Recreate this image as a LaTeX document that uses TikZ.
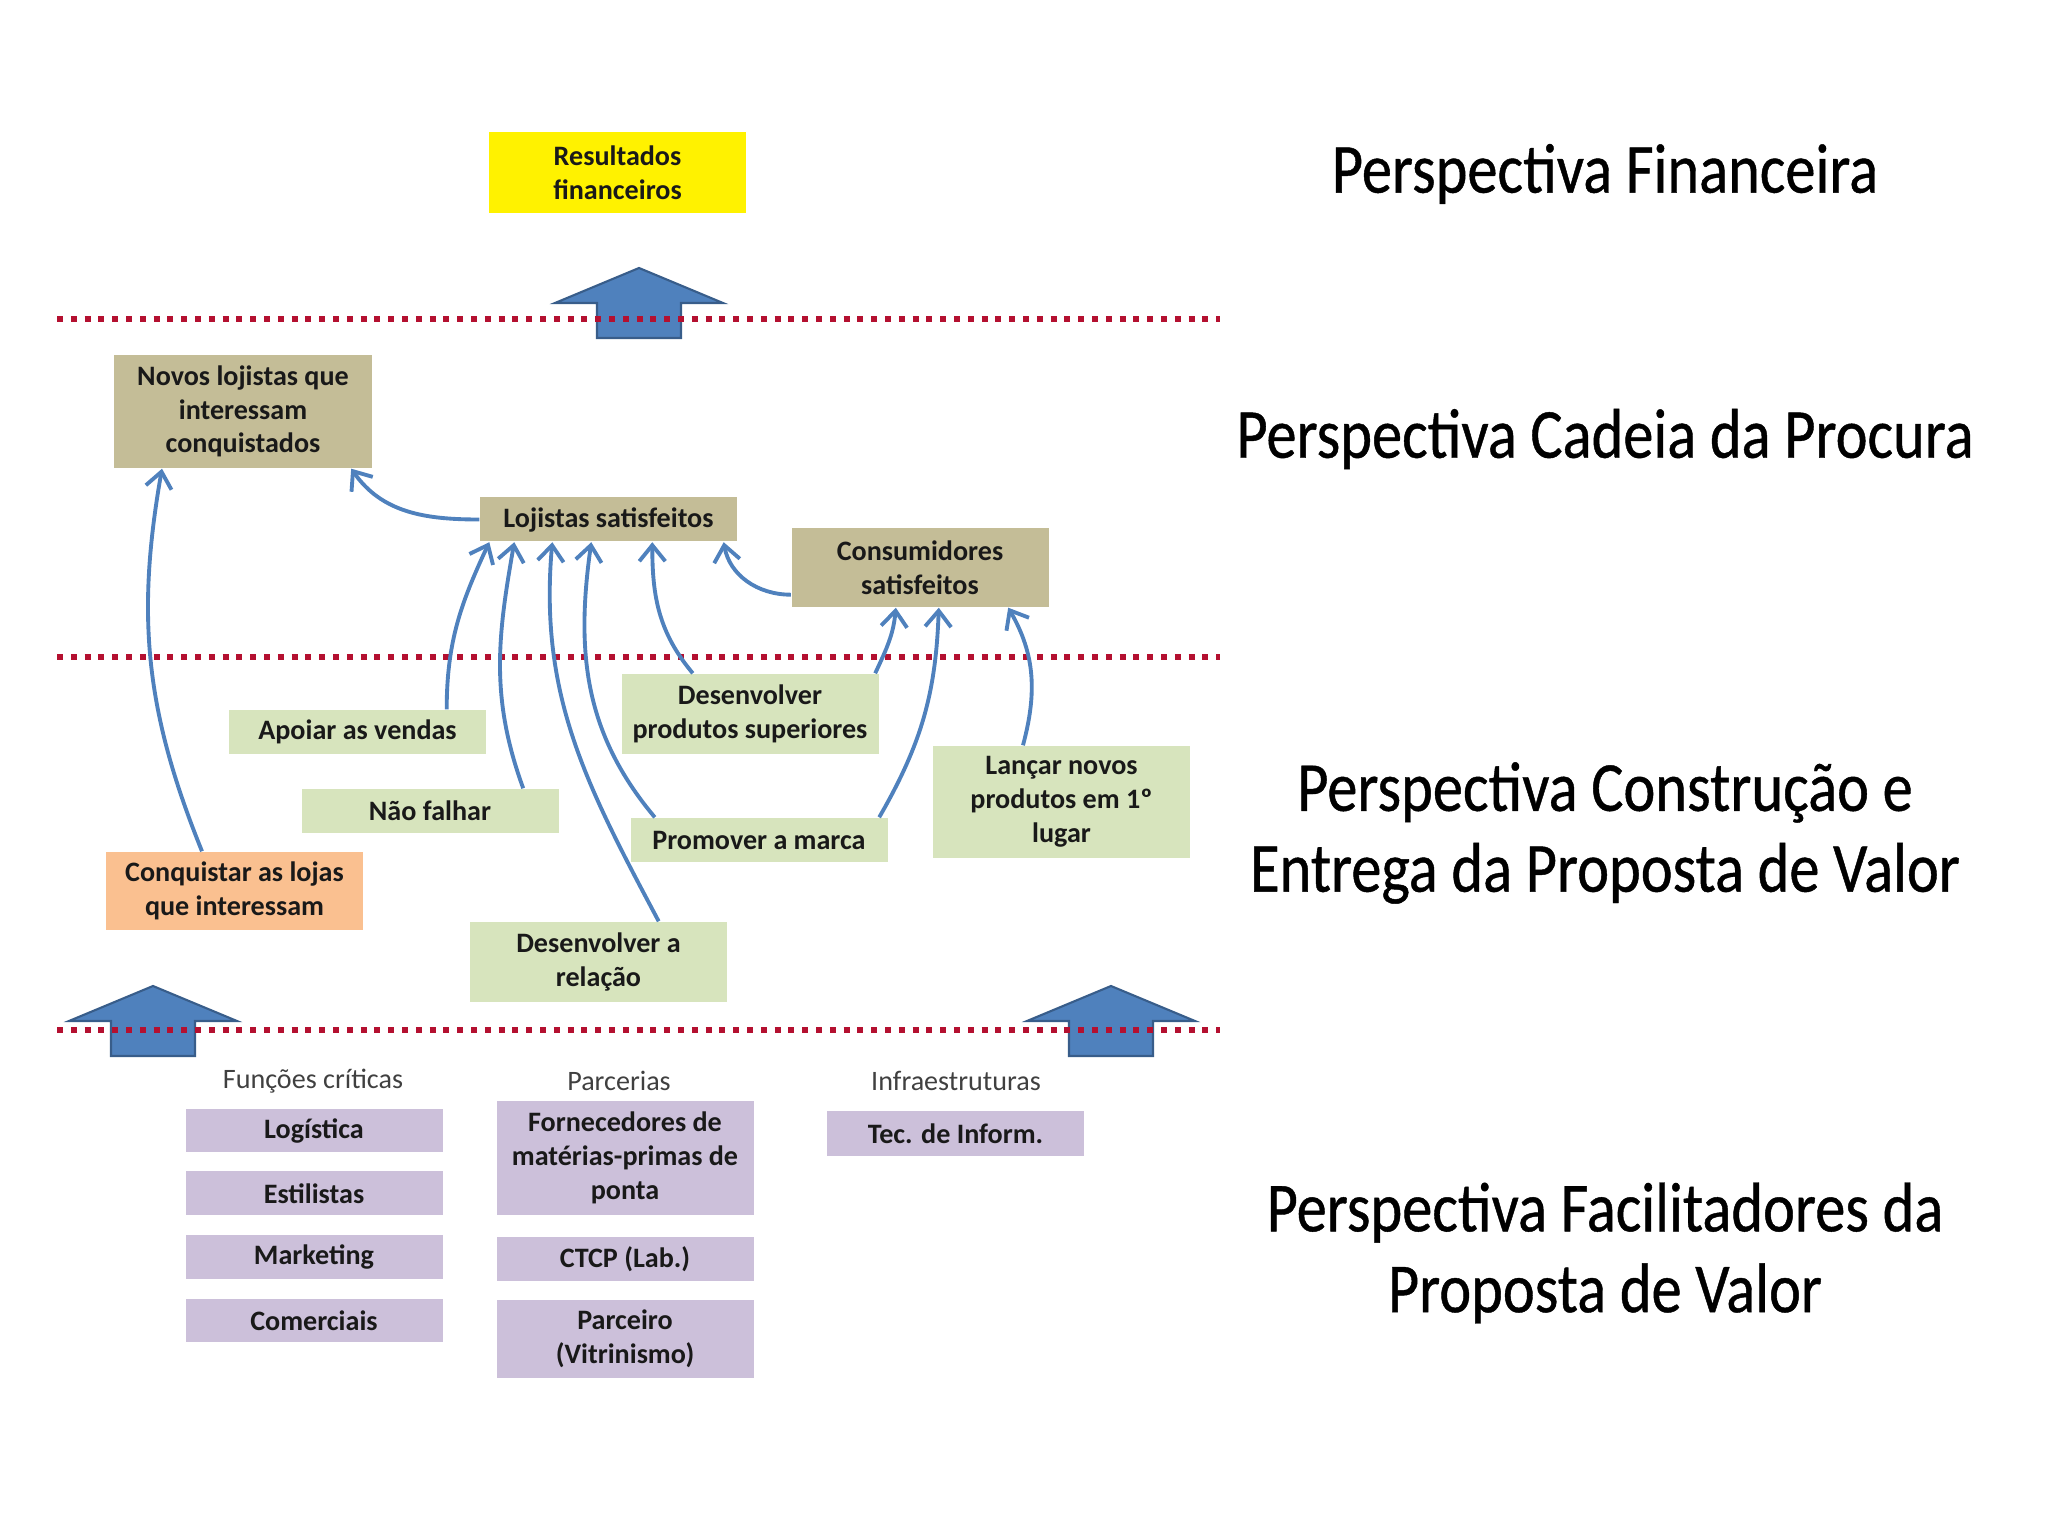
\documentclass[tikz,border=0pt]{standalone}
\usepackage{fontspec}
\setmainfont{Carlito}
\newfontfamily\titlefont[FakeStretch=0.86,FakeBold=0.6]{Carlito}
\usetikzlibrary{arrows.meta,positioning}

\definecolor{khaki}{RGB}{196,189,151}
\definecolor{leaf}{RGB}{215,228,189}
\definecolor{peach}{RGB}{250,192,144}
\definecolor{lilac}{RGB}{204,192,218}
\definecolor{dotred}{RGB}{180,16,48}
\definecolor{arrowblue}{RGB}{79,129,189}
\definecolor{arrowedge}{RGB}{56,93,138}

\begin{document}
\begin{tikzpicture}[
  box/.style={rectangle,minimum width=2.57cm,align=center,inner sep=2pt,
    font=\fontsize{8pt}{9.6pt}\selectfont\bfseries,text=black!90},
  demand/.style={box,fill=khaki},
  delivery/.style={box,fill=leaf},
  enabler/.style={box,fill=lilac},
  group/.style={font=\fontsize{8pt}{9.6pt}\selectfont,text=black!75,inner sep=0pt},
  perspective/.style={align=center,font=\titlefont\fontsize{20pt}{23pt}\selectfont},
  divider/.style={dotred,line width=0.065cm,dash pattern=on 0.06cm off 0.078cm},
  feed/.style={-{Straight Barb[length=1.6mm,width=2.6mm]},arrowblue,line width=1.1pt},
  bigarrow/.pic={\draw[fill=arrowblue,draw=arrowedge,line width=0.6pt]
    (0,0) -- (0.84,-0.35) -- (0.42,-0.35) -- (0.42,-0.70) -- (-0.42,-0.70)
    -- (-0.42,-0.35) -- (-0.84,-0.35) -- cycle;}]

  \useasboundingbox (0,0) rectangle (20.48,-15.36);

  % perspectives
  \node[perspective] (pfin) at (16.05,-1.74) {Perspectiva Financeira};
  \node[perspective] (pcad) at (16.05,-4.39) {Perspectiva Cadeia da Procura};
  \node[perspective] (pcon) at (16.05,-8.33) {Perspectiva Construção e\\Entrega da Proposta de Valor};
  \node[perspective] (pfac) at (16.05,-12.53) {Perspectiva Facilitadores da\\Proposta de Valor};

  % big arrows between layers
  \pic at (6.39,-2.68) {bigarrow};
  \pic at (1.53,-9.86) {bigarrow};
  \pic at (11.11,-9.86) {bigarrow};

  \draw[divider] (0.57,-3.19) -- (12.2,-3.19);
  \draw[divider] (0.57,-6.57) -- (12.2,-6.57);
  \draw[divider] (0.57,-10.30) -- (12.2,-10.30);

  \node[box,fill=yellow,minimum height=0.81cm] (resultados) at (6.175,-1.725) {Resultados\\financeiros};

  \node[demand,minimum height=1.13cm] (novos) at (2.43,-4.115) {Novos lojistas que\\interessam\\conquistados};
  \node[demand,minimum height=0.44cm] (lojistas) at (6.085,-5.195) {Lojistas satisfeitos};
  \node[demand,minimum height=0.79cm] (consumidores) at (9.20,-5.675) {Consumidores\\satisfeitos};

  \node[delivery,minimum height=0.80cm] (desprod) at (7.50,-7.14) {Desenvolver\\produtos superiores};
  \node[delivery,minimum height=0.44cm] (apoiar) at (3.575,-7.32) {Apoiar as vendas};
  \node[delivery,minimum height=0.44cm] (naofalhar) at (4.30,-8.11) {Não falhar};
  \node[delivery,minimum height=0.44cm] (promover) at (7.59,-8.40) {Promover a marca};
  \node[delivery,minimum height=1.12cm] (lancar) at (10.615,-8.02) {Lançar novos\\produtos em 1º\\lugar};
  \node[box,fill=peach,minimum height=0.78cm] (conquistar) at (2.345,-8.91) {Conquistar as lojas\\que interessam};
  \node[delivery,minimum height=0.80cm] (desrel) at (5.985,-9.62) {Desenvolver a\\relação};

  % enablers
  \node[group] (funcoes) at (3.13,-10.81) {Funções críticas};
  \node[group] (parcerias) at (6.19,-10.81) {Parcerias};
  \node[group] (infra) at (9.56,-10.81) {Infraestruturas};

  \node[enabler,minimum height=0.43cm] (logistica) at (3.14,-11.305) {Logística};
  \node[enabler,minimum height=0.44cm,below=0.18cm of logistica] (estilistas) {Estilistas};
  \node[enabler,minimum height=0.44cm,below=0.18cm of estilistas] (marketing) {Marketing};
  \node[enabler,minimum height=0.43cm,below=0.19cm of marketing] (comerciais) {Comerciais};

  \node[enabler,minimum height=1.14cm] (fornecedores) at (6.25,-11.58) {Fornecedores de\\matérias-primas de\\ponta};
  \node[enabler,minimum height=0.44cm,below=0.21cm of fornecedores] (ctcp) {CTCP (Lab.)};
  \node[enabler,minimum height=0.78cm,below=0.17cm of ctcp] (parceiro) {Parceiro\\(Vitrinismo)};

  \node[enabler,minimum height=0.45cm] (tec) at (9.555,-11.335) {Tec. de Inform.};

  % links
  \draw[feed] ([xshift=-0.325cm]conquistar.north) to[out=112,in=-100] ([xshift=-0.81cm]novos.south);
  \draw[feed] (lojistas.west) to[out=180,in=-55] ([xshift=-0.21cm]novos.south east);
  \draw[feed] ([xshift=-0.40cm]apoiar.north east) to[out=90,in=-115] ([xshift=0.10cm]lojistas.south west);
  \draw[feed] ([xshift=-0.36cm]naofalhar.north east) to[out=110,in=-100] ([xshift=0.35cm]lojistas.south west);
  \draw[feed] ([xshift=-0.69cm]desrel.north east) to[out=118,in=-95] ([xshift=0.73cm]lojistas.south west);
  \draw[feed] ([xshift=0.25cm]promover.north west) to[out=130,in=-98] ([xshift=1.12cm]lojistas.south west);
  \draw[feed] ([xshift=0.72cm]desprod.north west) to[out=130,in=-90] ([xshift=1.73cm]lojistas.south west);
  \draw[feed] ([yshift=0.13cm]consumidores.south west) to[out=180,in=-80] ([xshift=-0.14cm]lojistas.south east);
  \draw[feed] ([xshift=-0.04cm]desprod.north east) to[out=65,in=-95] ([xshift=1.05cm]consumidores.south west);
  \draw[feed] ([xshift=-0.09cm]promover.north east) to[out=60,in=-92] ([xshift=1.48cm]consumidores.south west);
  \draw[feed] ([xshift=-0.385cm]lancar.north) to[out=75,in=-60] ([xshift=-0.41cm]consumidores.south east);
\end{tikzpicture}
\end{document}
